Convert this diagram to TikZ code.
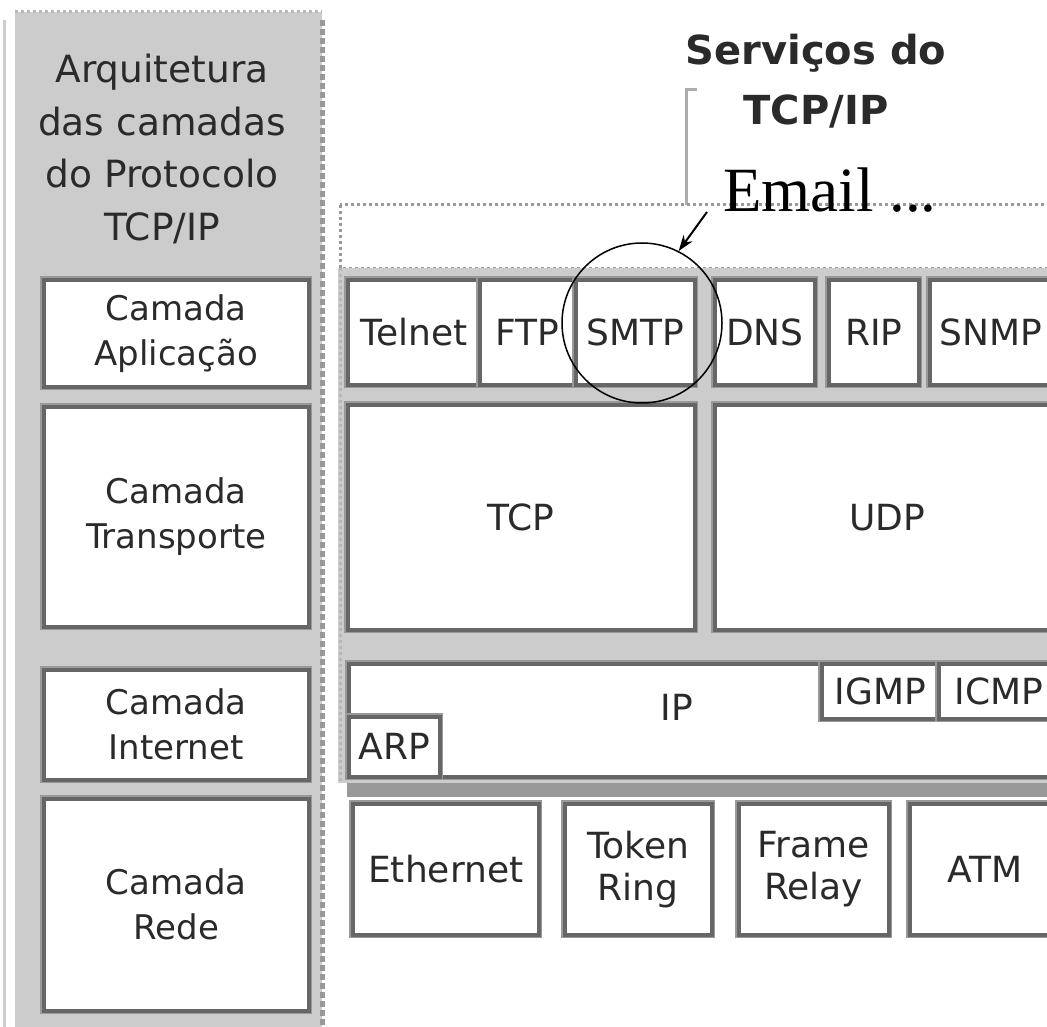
\documentclass[tikz,border=0pt]{standalone}
\usepackage{fontspec}
\setmainfont{DejaVu Sans}
\newfontfamily\serifemail{Liberation Serif}
\usetikzlibrary{arrows.meta}
\definecolor{pgray}{HTML}{CCCCCC}
\definecolor{bdark}{HTML}{666666}
\definecolor{blight}{HTML}{999999}
\definecolor{tgray}{HTML}{2A2A2A}
\begin{document}
\begin{tikzpicture}[x=1pt,y=-1pt,
  box/.style={draw=bdark, fill=white, line width=3.5pt, inner sep=0pt,
    anchor=north west, text=tgray, align=center,
    preaction={draw=blight, line width=7pt}},
  lfont/.style={font=\fontsize{34}{45}\selectfont},
  rfont/.style={font=\fontsize{36}{42}\selectfont},
  txt/.style={text=tgray, inner sep=0pt, align=center}]
\useasboundingbox (0,0) rectangle (1047,1027);
\clip (0,0) rectangle (1047,1027);
\fill[white] (0,0) rectangle (1047,1027);

% left panel
\draw[pgray, line width=3pt] (4,20) -- (4,1027);
\fill[pgray] (15,12) rectangle (322,1030);
\draw[blight!70, line width=3pt, dash pattern=on 3pt off 3pt] (15,12) -- (322,12);
\draw[blight, line width=5pt, dash pattern=on 6pt off 3pt] (322,20) -- (322,1027);
\node[txt, font=\fontsize{37.5}{52.5}\selectfont] (title) at (162,149)
  {Arquitetura\\das camadas\\do Protocolo\\TCP/IP};
\node[box, lfont, minimum width=265pt, minimum height=107pt] (appL) at (42,278) {Camada\\Aplicação};
\node[box, lfont, minimum width=265pt, minimum height=220pt] (trL) at (42,405) {Camada\\Transporte};
\node[box, lfont, minimum width=265pt, minimum height=110pt] (intL) at (42,668) {Camada\\Internet};
\node[box, lfont, minimum width=265pt, minimum height=212pt] (redeL) at (42,797) {Camada\\Rede};

% services heading
\node[txt, font=\bfseries\fontsize{40}{60}\selectfont] (serv) at (816,81) {Serviços do\\TCP/IP};
\draw[blight!80, line width=3pt] (697,90) -- (686,90) -- (686,205);

% email box
\draw[blight, line width=3pt, dash pattern=on 3pt off 3pt, fill=white] (340,205) rectangle (1055,268);

% right gray area
\fill[pgray] (338,268) rectangle (1047,783);
\draw[blight!70, line width=3pt, dash pattern=on 3pt off 3pt] (340,268) -- (340,783);
\fill[blight] (347,783) rectangle (1047,797);

% application row
\node[box, rfont, minimum width=132pt, minimum height=105pt] (telnet) at (346,278) {Telnet};
\node[box, rfont, minimum width=96pt, minimum height=105pt] (ftp) at (478,278) {FTP};
\node[box, rfont, minimum width=119pt, minimum height=105pt] (smtp) at (574,278) {SMTP};
\node[box, rfont, minimum width=100pt, minimum height=105pt] (dns) at (713,278) {DNS};
\node[box, rfont, minimum width=90pt, minimum height=105pt] (rip) at (827,278) {RIP};
\node[box, rfont, minimum width=122pt, minimum height=105pt] (snmp) at (928,278) {SNMP};

% transport
\node[box, rfont, minimum width=347pt, minimum height=225pt] (tcp) at (346,403) {TCP};
\node[box, rfont, minimum width=345pt, minimum height=225pt] (udp) at (713,403) {UDP};

% internet
\node[box, minimum width=712pt, minimum height=113pt] (ip) at (347,662) {};
\node[txt, rfont] (iptxt) at (677,707) {IP};
\node[box, rfont, minimum width=117pt, minimum height=55pt] (igmp) at (820,662) {IGMP};
\node[box, rfont, minimum width=120pt, minimum height=55pt] (icmp) at (937,662) {ICMP};
\node[box, rfont, minimum width=91pt, minimum height=60pt] (arp) at (347,715) {ARP};

% network
\node[box, rfont, minimum width=186pt, minimum height=131pt] (eth) at (351,802) {Ethernet};
\node[box, rfont, minimum width=147pt, minimum height=131pt] (tok) at (563,802) {Token\\Ring};
\node[box, rfont, minimum width=150pt, minimum height=131pt] (frm) at (737,802) {Frame\\Relay};
\node[box, rfont, minimum width=150pt, minimum height=131pt] (atm) at (908,802) {ATM};

% email annotation
\node[inner sep=0pt, anchor=base west, font=\serifemail\fontsize{63}{70}\selectfont] (email) at (723,212) {Email ...};
\node[circle, draw=black, line width=1.5pt, minimum size=160pt, inner sep=0pt] (circ) at (642,323) {};
\coordinate (tail) at (707,212);
\draw[line width=2pt, -{Stealth[length=16pt,width=11pt]}] (tail) -- (circ.63);
\end{tikzpicture}
\end{document}
